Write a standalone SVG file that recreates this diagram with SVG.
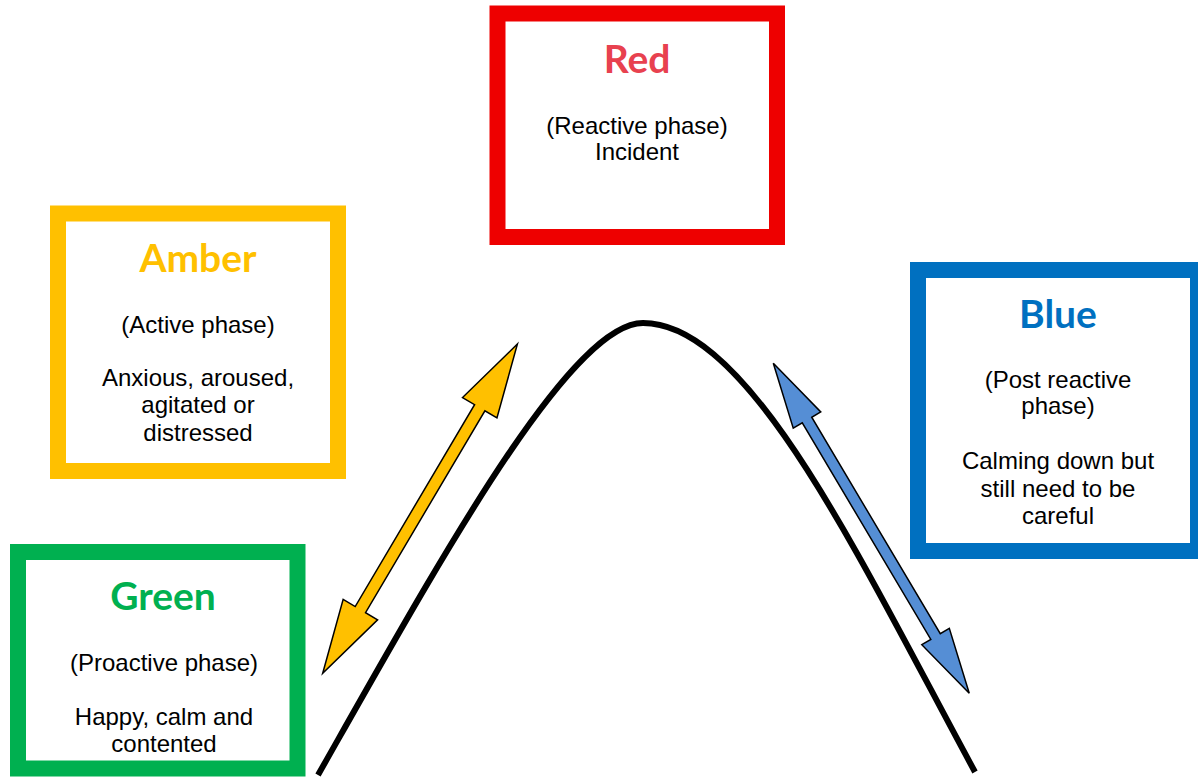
<svg xmlns="http://www.w3.org/2000/svg" width="1198" height="778" viewBox="0 0 1198 778">
<style>
.box{fill:#FFFFFF;stroke-width:16}
.title{font-family:Lato,"Open Sans","Liberation Sans",sans-serif;font-weight:bold;font-size:39px;text-anchor:middle}
.body{font-family:"Liberation Sans",Arial,sans-serif;font-size:24px;fill:#000000;text-anchor:middle}
.arrow{stroke:#000000;stroke-width:1.5;stroke-linejoin:miter}
</style>
<rect width="1198" height="778" fill="#FFFFFF"/>
<path id="curve" d="M318,775 C440,560 570,323 643,323 C750,323 860,560 975,772" fill="none" stroke="#000000" stroke-width="6"/>
<g id="connectors">
<polygon class="arrow" fill="#FFC000" transform="translate(322.7,673.3) rotate(-59.4)" points="0,0 74,-20 74,-6 308.5,-6 308.5,-20 382.5,0 308.5,20 308.5,6 74,6 74,20"/>
<polygon class="arrow" fill="#558ED5" transform="translate(773.3,363.3) rotate(59.3)" points="0,0 66,-16 66,-5.5 317.8,-5.5 317.8,-16 383.8,0 317.8,16 317.8,5.5 66,5.5 66,16"/>
</g>
<g id="red">
<rect class="box" stroke="#EE0000" x="497.5" y="13.5" width="279.5" height="223.5"/>
<text class="title" fill="#E8414F" x="637" y="73">Red</text>
<text class="body" x="637" y="134">(Reactive phase)</text>
<text class="body" x="637" y="160">Incident</text>
</g>
<g id="amber">
<rect class="box" stroke="#FFC000" x="58" y="213.5" width="280" height="257.5"/>
<text class="title" fill="#FFC000" x="198" y="272">Amber</text>
<text class="body" x="198" y="333">(Active phase)</text>
<text class="body" x="198" y="386">Anxious, aroused,</text>
<text class="body" x="198" y="413">agitated or</text>
<text class="body" x="198" y="441">distressed</text>
</g>
<g id="green">
<rect class="box" stroke="#00B050" x="18" y="552" width="279.5" height="216.5"/>
<text class="title" fill="#00B050" x="163" y="610">Green</text>
<text class="body" x="164" y="671">(Proactive phase)</text>
<text class="body" x="164" y="725">Happy, calm and</text>
<text class="body" x="164" y="752">contented</text>
</g>
<g id="blue">
<rect class="box" stroke="#0070C0" x="918" y="270" width="280" height="281"/>
<text class="title" fill="#0070C0" x="1058" y="328">Blue</text>
<text class="body" x="1058" y="388">(Post reactive</text>
<text class="body" x="1058" y="414">phase)</text>
<text class="body" x="1058" y="469">Calming down but</text>
<text class="body" x="1058" y="497">still need to be</text>
<text class="body" x="1058" y="524">careful</text>
</g>
</svg>
